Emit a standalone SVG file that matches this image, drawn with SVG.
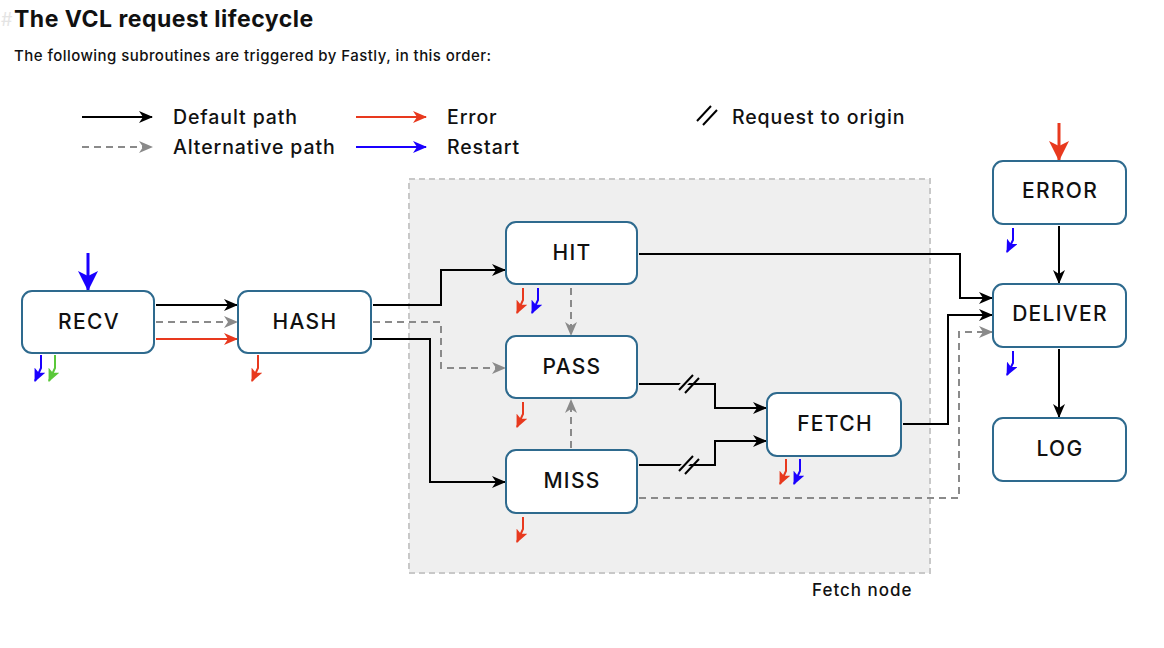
<svg xmlns="http://www.w3.org/2000/svg" width="1164" height="648" viewBox="0 0 1164 648">
<style>
text{font-family:Inter,"Liberation Sans",Arial,sans-serif;fill:#111}
.node rect{fill:#fff;stroke:#2e6a8e;stroke-width:2}
.node text{font-size:21px;font-weight:500;text-anchor:middle;letter-spacing:1.3px}
.leg{font-size:19.5px;font-weight:500;letter-spacing:0.9px}
.k{fill:none;stroke:#000;stroke-width:2}
.g{fill:none;stroke:#8a8a8a;stroke-width:2;stroke-dasharray:7 5}
.r{fill:none;stroke:#e8391e;stroke-width:2}
.b{fill:none;stroke:#1a00ff;stroke-width:2}
.hk{fill:none;stroke-width:2}
</style>
<defs>
<marker id="ak" markerUnits="userSpaceOnUse" markerWidth="14" markerHeight="12" refX="13" refY="6" orient="auto"><path d="M0,0 L14,6 L0,12 L4,6 z" fill="#000"/></marker>
<marker id="ag" markerUnits="userSpaceOnUse" markerWidth="14" markerHeight="12" refX="13" refY="6" orient="auto"><path d="M0,0 L14,6 L0,12 L4,6 z" fill="#8a8a8a"/></marker>
<marker id="ar" markerUnits="userSpaceOnUse" markerWidth="14" markerHeight="12" refX="13" refY="6" orient="auto"><path d="M0,0 L14,6 L0,12 L4,6 z" fill="#e8391e"/></marker>
<marker id="ab" markerUnits="userSpaceOnUse" markerWidth="14" markerHeight="12" refX="13" refY="6" orient="auto"><path d="M0,0 L14,6 L0,12 L4,6 z" fill="#1a00ff"/></marker>
<marker id="bigb" markerUnits="userSpaceOnUse" markerWidth="20" markerHeight="20" refX="19" refY="10" orient="auto"><path d="M0,0 L20,10 L0,20 L5,10 z" fill="#1a00ff"/></marker>
<marker id="bigr" markerUnits="userSpaceOnUse" markerWidth="20" markerHeight="20" refX="19" refY="10" orient="auto"><path d="M0,0 L20,10 L0,20 L5,10 z" fill="#e8391e"/></marker>
<marker id="sr" markerUnits="userSpaceOnUse" markerWidth="13" markerHeight="12" refX="12" refY="6" orient="auto"><path d="M0,0 L13,6 L0,12 L3,6 z" fill="#e8391e"/></marker>
<marker id="sb" markerUnits="userSpaceOnUse" markerWidth="13" markerHeight="12" refX="12" refY="6" orient="auto"><path d="M0,0 L13,6 L0,12 L3,6 z" fill="#1a00ff"/></marker>
<marker id="sg" markerUnits="userSpaceOnUse" markerWidth="13" markerHeight="12" refX="12" refY="6" orient="auto"><path d="M0,0 L13,6 L0,12 L3,6 z" fill="#5ac83a"/></marker>
</defs>

<!-- header -->
<text x="1" y="26" font-size="18" style="fill:#e4e4e4">#</text>
<text x="14" y="27" font-size="23" font-weight="700" letter-spacing="0.5">The VCL request lifecycle</text>
<text x="14" y="61" font-size="15" font-weight="500" letter-spacing="0.45">The following subroutines are triggered by Fastly, in this order:</text>

<!-- legend -->
<g id="legend">
<line class="k" x1="82" y1="117" x2="152" y2="117" marker-end="url(#ak)"/>
<text class="leg" x="173" y="124">Default path</text>
<line class="g" x1="82" y1="147" x2="152" y2="147" marker-end="url(#ag)"/>
<text class="leg" x="173" y="154">Alternative path</text>
<line class="r" x1="356" y1="117" x2="426" y2="117" marker-end="url(#ar)"/>
<text class="leg" x="447" y="124">Error</text>
<line class="b" x1="356" y1="147" x2="426" y2="147" marker-end="url(#ab)"/>
<text class="leg" x="447" y="154">Restart</text>
<line class="k" x1="697" y1="121" x2="711" y2="106"/>
<line class="k" x1="703" y1="125" x2="717" y2="110"/>
<text class="leg" x="732" y="124">Request to origin</text>
</g>

<!-- fetch node area -->
<g id="fetch-node">
<rect x="409" y="179" width="521" height="394" fill="#efefef" stroke="#c8c8c8" stroke-width="2" stroke-dasharray="6 4"/>
<text x="812" y="596" font-size="17" font-weight="500" letter-spacing="1">Fetch node</text>
</g>

<!-- connectors -->
<g id="connectors">
<line class="k" x1="156" y1="305" x2="237" y2="305" marker-end="url(#ak)"/>
<line class="g" x1="156" y1="322" x2="237" y2="322" marker-end="url(#ag)"/>
<line class="r" x1="156" y1="339" x2="237" y2="339" marker-end="url(#ar)"/>
<path class="k" d="M373,305 H441 V270 H505" marker-end="url(#ak)"/>
<path class="g" d="M373,322 H441 V368 H505" marker-end="url(#ag)"/>
<path class="k" d="M373,339 H430 V482 H505" marker-end="url(#ak)"/>
<line class="g" x1="571" y1="288" x2="571" y2="335" marker-end="url(#ag)"/>
<line class="g" x1="571" y1="448" x2="571" y2="400" marker-end="url(#ag)"/>
<path class="k" d="M639,254 H960 V298 H992" marker-end="url(#ak)"/>
<path class="k" d="M903,424 H948 V315 H992" marker-end="url(#ak)"/>
<path class="g" d="M639,498 H959 V332 H992" marker-end="url(#ag)"/>
<path class="k" d="M639,384 H715 V408 H766" marker-end="url(#ak)"/>
<path class="k" d="M639,465 H715 V441 H766" marker-end="url(#ak)"/>
<line x1="679" y1="389" x2="693" y2="375" stroke="#efefef" stroke-width="6"/>
<line class="k" x1="679" y1="390" x2="693" y2="375"/>
<line class="k" x1="685" y1="393" x2="699" y2="378"/>
<line x1="679" y1="471" x2="693" y2="457" stroke="#efefef" stroke-width="6"/>
<line class="k" x1="679" y1="471" x2="693" y2="456"/>
<line class="k" x1="685" y1="474" x2="699" y2="459"/>
<line class="k" x1="1059" y1="226" x2="1059" y2="283" marker-end="url(#ak)"/>
<line class="k" x1="1059" y1="349" x2="1059" y2="417" marker-end="url(#ak)"/>
<line x1="88" y1="253" x2="88" y2="290" stroke="#1a00ff" stroke-width="3" marker-end="url(#bigb)"/>
<line x1="1059" y1="123" x2="1059" y2="160" stroke="#e8391e" stroke-width="3" marker-end="url(#bigr)"/>
<!-- hook arrows -->
<path class="hk" stroke="#1a00ff" d="M41,355 V368 L35,381" marker-end="url(#sb)"/>
<path class="hk" stroke="#5ac83a" d="M55,355 V368 L49,381" marker-end="url(#sg)"/>
<path class="hk" stroke="#e8391e" d="M258,355 V368 L252,381" marker-end="url(#sr)"/>
<path class="hk" stroke="#e8391e" d="M523,288 V300 L517,313" marker-end="url(#sr)"/>
<path class="hk" stroke="#1a00ff" d="M538,288 V300 L532,313" marker-end="url(#sb)"/>
<path class="hk" stroke="#e8391e" d="M523,402 V414 L517,427" marker-end="url(#sr)"/>
<path class="hk" stroke="#e8391e" d="M523,517 V529 L517,542" marker-end="url(#sr)"/>
<path class="hk" stroke="#e8391e" d="M786,459 V471 L780,484" marker-end="url(#sr)"/>
<path class="hk" stroke="#1a00ff" d="M800,459 V471 L794,484" marker-end="url(#sb)"/>
<path class="hk" stroke="#1a00ff" d="M1013,228 V240 L1007,252" marker-end="url(#sb)"/>
<path class="hk" stroke="#1a00ff" d="M1013,351 V363 L1007,375" marker-end="url(#sb)"/>
</g>

<!-- nodes -->
<g id="recv" class="node"><rect x="22" y="291" width="132" height="62" rx="10"/><text x="89" y="329">RECV</text></g>
<g id="hash" class="node"><rect x="238" y="291" width="133" height="62" rx="10"/><text x="305" y="329">HASH</text></g>
<g id="hit" class="node"><rect x="506" y="222" width="131" height="62" rx="10"/><text x="572" y="260">HIT</text></g>
<g id="pass" class="node"><rect x="506" y="336" width="131" height="62" rx="10"/><text x="572" y="374">PASS</text></g>
<g id="miss" class="node"><rect x="506" y="450" width="131" height="63" rx="10"/><text x="572" y="488">MISS</text></g>
<g id="fetch" class="node"><rect x="767" y="393" width="134" height="63" rx="10"/><text x="835" y="431">FETCH</text></g>
<g id="error" class="node"><rect x="993" y="161" width="133" height="63" rx="10"/><text x="1060" y="198">ERROR</text></g>
<g id="deliver" class="node"><rect x="993" y="284" width="133" height="63" rx="10"/><text x="1060" y="321">DELIVER</text></g>
<g id="log" class="node"><rect x="993" y="418" width="133" height="63" rx="10"/><text x="1060" y="456">LOG</text></g>
</svg>
